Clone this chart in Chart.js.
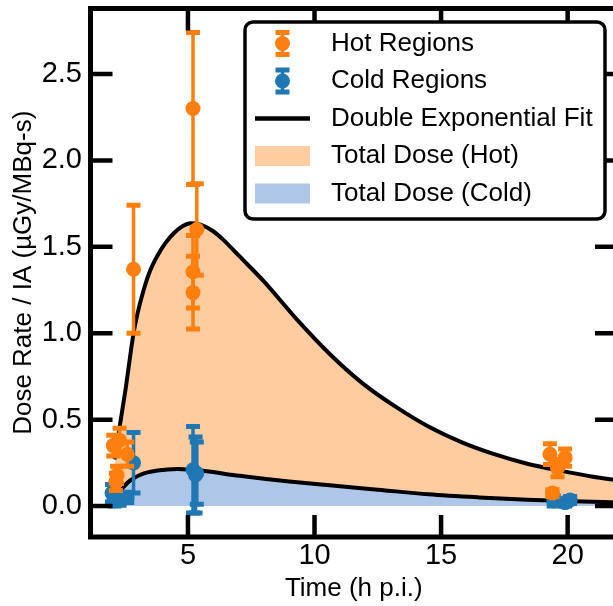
<!DOCTYPE html>
<html>
<head>
<meta charset="utf-8">
<title>Dose rate</title>
<script src="https://cdn.jsdelivr.net/npm/chart.js@4.4.1/dist/chart.umd.min.js"></script>
<style>
    html, body { margin: 0; padding: 0; overflow: hidden; background: #fff; }
    #wrap { width: 630px; height: 606px; }
</style>
</head>
<body>
<div id="wrap"><canvas id="doseChart" width="630" height="606"></canvas></div>
<script>
// measured dose rates (time in h p.i.)
const hotTime = [2.05, 2.3, 2.6, 2.2, 2.15, 2.85, 5.2, 5.35, 5.2, 5.2, 19.3, 19.9, 19.6, 19.4];
const hotRate = [0.35, 0.38, 0.30, 0.18, 0.14, 1.37, 2.30, 1.60, 1.356, 1.235, 0.30, 0.28, 0.22, 0.075];
const hotErr = [0.06, 0.07, 0.07, 0.05, 0.05, 0.37, 0.44, 0.265, 0.21, 0.21, 0.06, 0.05, 0.05, 0.02];

const coldTime = [2.85, 2.0, 2.3, 2.6, 2.1, 5.2, 5.35, 5.3, 19.45, 19.9, 20.1];
const coldRate = [0.25, 0.075, 0.04, 0.05, 0.03, 0.21, 0.19, 0.18, 0.03, 0.02, 0.035];
const coldErr = [0.175, 0.05, 0.035, 0.03, 0.03, 0.25, 0.18, 0.22, 0.03, 0.02, 0.02];

// fitted curves
const fitHotTime = [2.1, 2.26, 2.4, 2.55, 2.7, 2.85, 3.0, 3.25, 3.5, 3.8, 4.1, 4.45, 4.8, 5.1, 5.5, 6.0, 6.4, 7.0, 8.0, 9.3, 10.6, 11.9, 13.2, 14.5, 15.8, 17.1, 18.4, 19.7, 21.0, 22.0];
const fitHotRate = [0.27, 0.42, 0.55, 0.69, 0.85, 1.0, 1.11, 1.25, 1.36, 1.45, 1.52, 1.58, 1.62, 1.636, 1.628, 1.59, 1.54, 1.45, 1.30, 1.08, 0.88, 0.71, 0.575, 0.46, 0.37, 0.30, 0.245, 0.205, 0.17, 0.148];
const fitColdTime = [2.1, 2.25, 2.45, 2.65, 2.85, 3.1, 3.4, 3.8, 4.2, 4.6, 5.0, 5.5, 6.0, 6.6, 7.2, 8.0, 9.0, 10.6, 12.5, 14.5, 16.5, 18.4, 20.2, 22.0];
const fitColdRate = [0.045, 0.075, 0.11, 0.14, 0.16, 0.18, 0.195, 0.206, 0.212, 0.214, 0.212, 0.206, 0.197, 0.183, 0.172, 0.158, 0.142, 0.12, 0.095, 0.068, 0.05, 0.037, 0.028, 0.021];

const xTicks = [5, 10, 15, 20];
const yTicks = [0, 0.5, 1.0, 1.5, 2.0, 2.5];
const legendLabels = ["Hot Regions", "Cold Regions", "Double Exponential Fit", "Total Dose (Hot)", "Total Dose (Cold)"];

const HOT = "#ff7f0e";
const COLD = "#1f77b4";
const HOT_FILL = "rgb(255, 204, 159)";
const COLD_FILL = "rgb(174, 199, 232)";
const FONT = "'Liberation Sans', Arial, sans-serif";

function toPoints(xs, ys) {
    return xs.map((x, i) => ({ x: x, y: ys[i] }));
}

// vertical error bar with caps
function drawErrorBar(ctx, x, yTop, yBot, color) {
    ctx.save();
    ctx.strokeStyle = color;
    ctx.lineWidth = 3.5;
    ctx.beginPath();
    ctx.moveTo(x, yTop);
    ctx.lineTo(x, yBot);
    ctx.stroke();
    ctx.lineWidth = 5;
    ctx.beginPath();
    ctx.moveTo(x - 7, yTop); ctx.lineTo(x + 7, yTop);
    ctx.moveTo(x - 7, yBot); ctx.lineTo(x + 7, yBot);
    ctx.stroke();
    ctx.restore();
}

const errorBarPlugin = {
    id: "errorBars",
    beforeDatasetDraw(chart, args) {
        const ds = chart.data.datasets[args.index];
        if (!ds.errors) return;
        const xs = chart.scales.x, ys = chart.scales.y;
        ds.data.forEach((p, i) => {
            const e = ds.errors[i];
            drawErrorBar(chart.ctx, xs.getPixelForValue(p.x),
                ys.getPixelForValue(p.y + e), ys.getPixelForValue(p.y - e), ds.backgroundColor);
        });
    }
};

// box frame with inward ticks on every side
const framePlugin = {
    id: "frame",
    afterDatasetsDraw(chart) {
        const { ctx, chartArea: a } = chart;
        const xs = chart.scales.x, ys = chart.scales.y;
        const len = 22;
        ctx.save();
        ctx.strokeStyle = "#000";
        ctx.lineWidth = 4.5;
        ctx.beginPath();
        xTicks.forEach(v => {
            const px = xs.getPixelForValue(v);
            ctx.moveTo(px, a.bottom); ctx.lineTo(px, a.bottom - len);
            ctx.moveTo(px, a.top); ctx.lineTo(px, a.top + len);
        });
        yTicks.forEach(v => {
            const py = ys.getPixelForValue(v);
            ctx.moveTo(a.left, py); ctx.lineTo(a.left + len, py);
            ctx.moveTo(a.right, py); ctx.lineTo(a.right - len, py);
        });
        ctx.stroke();
        ctx.lineWidth = 5;
        ctx.strokeRect(a.left, a.top, a.right - a.left, a.bottom - a.top);
        ctx.restore();
    }
};

function roundRect(ctx, x, y, w, h, r) {
    ctx.beginPath();
    ctx.moveTo(x + r, y);
    ctx.arcTo(x + w, y, x + w, y + h, r);
    ctx.arcTo(x + w, y + h, x, y + h, r);
    ctx.arcTo(x, y + h, x, y, r);
    ctx.arcTo(x, y, x + w, y, r);
    ctx.closePath();
}

const legendPlugin = {
    id: "boxLegend",
    afterDraw(chart) {
        const ctx = chart.ctx;
        const left = 245, top = 22, right = 605, bottom = 219;
        const rowY = [43.5, 81, 118.5, 156, 193.5];
        const handleX = 282.5, textX = 331;
        ctx.save();
        roundRect(ctx, left, top, right - left, bottom - top, 8);
        ctx.fillStyle = "#fff";
        ctx.fill();
        ctx.lineWidth = 3.5;
        ctx.strokeStyle = "#000";
        ctx.stroke();

        [HOT, COLD].forEach((c, i) => {
            drawErrorBar(ctx, handleX, rowY[i] - 11, rowY[i] + 11, c);
            ctx.fillStyle = c;
            ctx.beginPath();
            ctx.arc(handleX, rowY[i], 7.5, 0, Math.PI * 2);
            ctx.fill();
        });
        ctx.strokeStyle = "#000";
        ctx.lineWidth = 4.5;
        ctx.beginPath();
        ctx.moveTo(255, rowY[2]);
        ctx.lineTo(310, rowY[2]);
        ctx.stroke();
        ctx.fillStyle = HOT_FILL;
        ctx.fillRect(255, rowY[3] - 10, 55, 20);
        ctx.fillStyle = COLD_FILL;
        ctx.fillRect(255, rowY[4] - 10, 55, 20);

        ctx.fillStyle = "#000";
        ctx.font = "26px " + FONT;
        ctx.textBaseline = "middle";
        ctx.textAlign = "left";
        legendLabels.forEach((t, i) => ctx.fillText(t, textX, rowY[i]));
        ctx.restore();
    }
};

// keep Chart.js from reserving room for tick label overhang
function fixSize(s, size) {
    if (s.isHorizontal()) s.height = size; else s.width = size;
    s.paddingTop = 0;
    s.paddingBottom = 0;
    s.paddingLeft = 0;
    s.paddingRight = 0;
}

const ctx = document.getElementById("doseChart").getContext("2d");
new Chart(ctx, {
    type: "line",
    data: {
        datasets: [
            {
                label: "Hot Regions",
                data: toPoints(hotTime, hotRate),
                errors: hotErr,
                showLine: false,
                backgroundColor: HOT,
                borderWidth: 0,
                pointRadius: 7.5,
                pointHoverRadius: 7.5,
                order: 1
            },
            {
                label: "Cold Regions",
                data: toPoints(coldTime, coldRate),
                errors: coldErr,
                showLine: false,
                backgroundColor: COLD,
                borderWidth: 0,
                pointRadius: 7.5,
                pointHoverRadius: 7.5,
                order: 2
            },
            {
                label: "Total Dose (Cold)",
                data: toPoints(fitColdTime, fitColdRate),
                borderColor: "#000",
                borderWidth: 4,
                backgroundColor: COLD_FILL,
                fill: "origin",
                pointRadius: 0,
                cubicInterpolationMode: "monotone",
                order: 3
            },
            {
                label: "Total Dose (Hot)",
                data: toPoints(fitHotTime, fitHotRate),
                borderColor: "#000",
                borderWidth: 4,
                backgroundColor: HOT_FILL,
                fill: "origin",
                pointRadius: 0,
                cubicInterpolationMode: "monotone",
                order: 4
            }
        ]
    },
    options: {
        responsive: false,
        animation: false,
        layout: { padding: { top: 8.5, right: 13, left: 0, bottom: 0 } },
        plugins: {
            legend: { display: false },
            tooltip: { enabled: false }
        },
        scales: {
            x: {
                type: "linear",
                min: 1.15,
                max: 21.95,
                grid: { display: false, drawTicks: false },
                border: { display: false },
                afterBuildTicks: s => { s.ticks = xTicks.map(v => ({ value: v })); },
                afterFit: s => fixSize(s, 69),
                ticks: {
                    padding: 1.5,
                    color: "#000",
                    maxRotation: 0,
                    font: { family: FONT, size: 29 },
                    callback: v => String(v)
                },
                title: {
                    display: true,
                    text: "Time (h p.i.)",
                    color: "#000",
                    font: { family: FONT, size: 26, lineHeight: 1.2 },
                    padding: { top: 0, bottom: 1.5 }
                }
            },
            y: {
                min: -0.179,
                max: 2.879,
                grid: { display: false, drawTicks: false },
                border: { display: false },
                afterBuildTicks: s => { s.ticks = yTicks.map(v => ({ value: v })); },
                afterFit: s => fixSize(s, 90.5),
                ticks: {
                    padding: 8.5,
                    color: "#000",
                    font: { family: FONT, size: 29 },
                    callback: v => v.toFixed(1)
                },
                title: {
                    display: true,
                    text: "Dose Rate / IA (µGy/MBq-s)",
                    color: "#000",
                    font: { family: FONT, size: 26, lineHeight: 1.2 },
                    padding: { top: 8.5, bottom: 0 }
                }
            }
        }
    },
    plugins: [errorBarPlugin, framePlugin, legendPlugin]
});
</script>
</body>
</html>
